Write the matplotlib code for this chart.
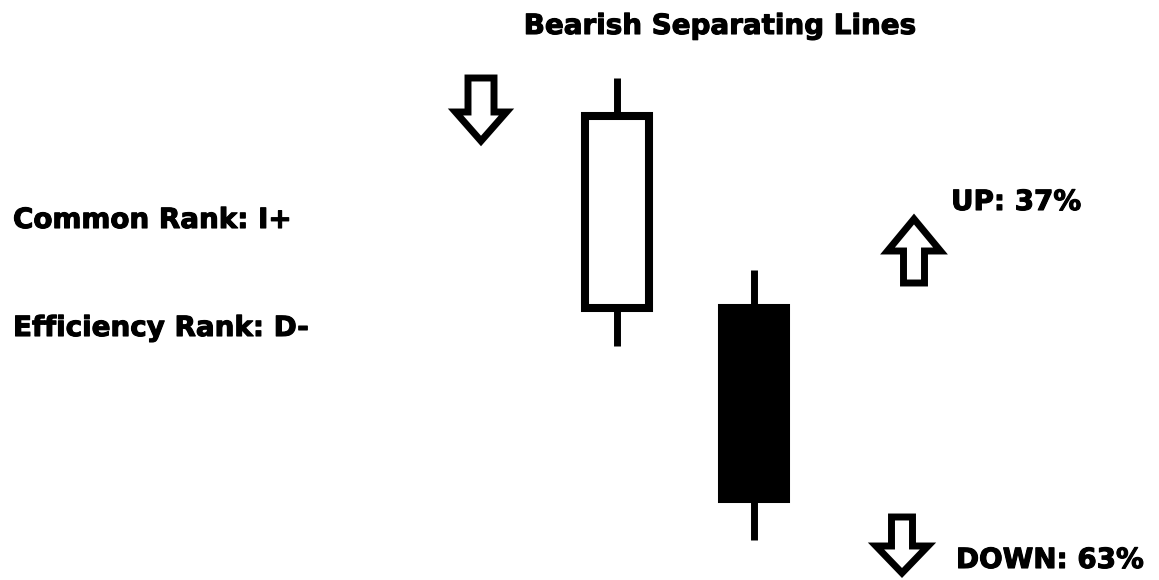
import matplotlib
matplotlib.use('Agg')
import matplotlib.pyplot as plt
import matplotlib.patheffects as pe
from matplotlib.patches import Rectangle, Polygon

# Candle data (price units)
candle_idx = [0, 1]
opens = [27.2, 27.2]
closes = [46.4, 8.1]
highs = [50.2, 31.0]
lows = [23.4, 4.0]

title = 'Bearish Separating Lines'
rank_labels = ['Common Rank: I+', 'Efficiency Rank: D-']
up_label = 'UP: 37%'
down_label = 'DOWN: 63%'

plt.rcParams['font.family'] = ['DejaVu Sans']

W, H = 1159, 580
fig = plt.figure(figsize=(W / 100, H / 100), dpi=100)

# candle axes
ax = fig.add_axes([0, 0, 1, 1])
ax.set_xlim(-4.504, 3.956)
ax.set_ylim(0, 58)
ax.axis('off')

body_w = 0.467
for i, o, c, h, l in zip(candle_idx, opens, closes, highs, lows):
    ax.vlines(i, l, h, color='black', lw=5.0, zorder=1, capstyle='butt')
    fill = 'white' if c > o else 'black'
    ax.add_patch(Rectangle((i - body_w / 2, min(o, c)), body_w, abs(c - o),
                           facecolor=fill, edgecolor='black', lw=5.8,
                           joinstyle='miter', zorder=2))

# overlay for text / arrows, pixel coords from top
ov = fig.add_axes([0, 0, 1, 1])
ov.set_xlim(0, W)
ov.set_ylim(H, 0)
ov.axis('off')
ov.patch.set_alpha(0)


def arrow(cx, y_tail, y_head, y_tip, shaft_w, head_w):
    pts = [(cx - shaft_w / 2, y_tail), (cx + shaft_w / 2, y_tail),
           (cx + shaft_w / 2, y_head), (cx + head_w / 2, y_head),
           (cx, y_tip), (cx - head_w / 2, y_head),
           (cx - shaft_w / 2, y_head)]
    ov.add_patch(Polygon(pts, closed=True, facecolor='white',
                         edgecolor='black', lw=5.0, joinstyle='miter'))


arrow(481, 78, 112, 141, 26, 51)
arrow(914, 283, 251, 219, 21, 53)
arrow(902, 517, 546, 573, 21, 52)

fs = 20
kw = dict(va='baseline', fontsize=fs, fontweight='bold',
          path_effects=[pe.withStroke(linewidth=0.8, foreground='black')])
ov.text(720, 34, title, ha='center', **kw)
ov.text(13, 228, rank_labels[0], ha='left', **kw)
ov.text(13, 336, rank_labels[1], ha='left', **kw)
ov.text(951, 210, up_label, ha='left', **kw)
ov.text(956, 568, down_label, ha='left', **kw)

fig.savefig('out.png', dpi=100, facecolor='white')
